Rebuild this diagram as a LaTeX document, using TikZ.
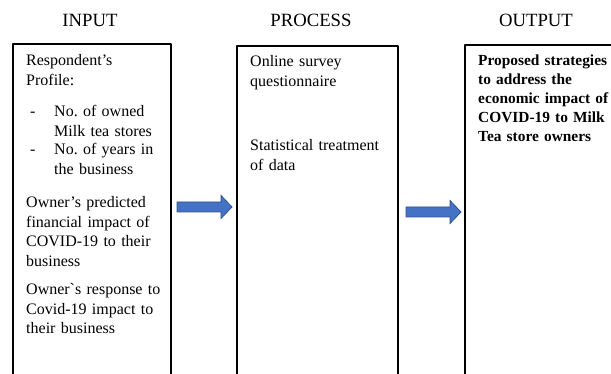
\documentclass[tikz,border=0pt]{standalone}
\usepackage{fontspec}
\setmainfont{Liberation Serif}
\definecolor{arrowblue}{HTML}{4472C4}
\definecolor{arrowedge}{HTML}{2F528F}
\tikzset{
	heading/.style={anchor=base,inner sep=0pt,font=\fontsize{18.7}{22}\selectfont},
	boxtext/.style={anchor=base west,align=left,inner sep=0pt,text width=140pt,font=\fontsize{16}{19.5}\selectfont},
	framebox/.style={line width=1.2pt},
	blockarrow/.style={fill=arrowblue,draw=arrowedge,line width=0.8pt,line join=miter}
}
\begin{document}
\begin{tikzpicture}[x=1pt,y=-1pt,line join=round,line cap=round]
			\def\bot{400} % day cac khung nam ngoai hinh
			\def\hl{44} % chieu dai than mui ten
			\useasboundingbox (0,0) rectangle (611,374);
			\clip (0,0) rectangle (611,374);
			% tieu de
			\node[heading] (in) at (90,27) {INPUT};
			\node[heading] (pr) at (311,27) {PROCESS};
			\node[heading] (out) at (536,27) {OUTPUT};
			% ve cac khung
			\draw[framebox] (13,44) rectangle (171,\bot);
			\draw[framebox] (237,46) rectangle (398,\bot);
			\draw[framebox] (465,45) rectangle (640,\bot);
			% khung input
			\node[boxtext] (profile) at (26,66) {Respondent’s\\Profile:};
			\node[boxtext,text width=10pt] (dasha) at (30,117) {-};
			\node[boxtext] (stores) at (54,117) {No.\ of owned\\Milk tea stores};
			\node[boxtext,text width=10pt] (dashb) at (30,155) {-};
			\node[boxtext] (years) at (54,155) {No.\ of years in\\the business};
			\node[boxtext] (predicted) at (26,208) {Owner’s predicted\\financial impact of\\COVID-19 to their\\business};
			\node[boxtext] (response) at (26,295) {Owner\textasciigrave s response to\\Covid-19 impact to\\their business};
			% khung process
			\node[boxtext] (survey) at (250,67) {Online survey\\questionnaire};
			\node[boxtext] (treatment) at (250,151) {Statistical treatment\\of data};
			% khung output
			\node[boxtext,font=\fontsize{15.4}{19}\selectfont\bfseries] (strategies) at (478,66) {Proposed strategies\\to address the\\economic impact of\\COVID-19 to Milk\\Tea store owners};
			% mui ten
			\path (177,207) coordinate (A) (406,212) coordinate (B);
			\draw[blockarrow] (A) ++(0,-5) -- ++(\hl,0) -- ++(0,-6.5) -- ++(11,11.5) -- ++(-11,11.5) -- ++(0,-6.5) -- ++(-\hl,0) -- cycle;
			\draw[blockarrow] (B) ++(0,-5) -- ++(\hl,0) -- ++(0,-6.5) -- ++(11,11.5) -- ++(-11,11.5) -- ++(0,-6.5) -- ++(-\hl,0) -- cycle;
		\end{tikzpicture}
\end{document}
